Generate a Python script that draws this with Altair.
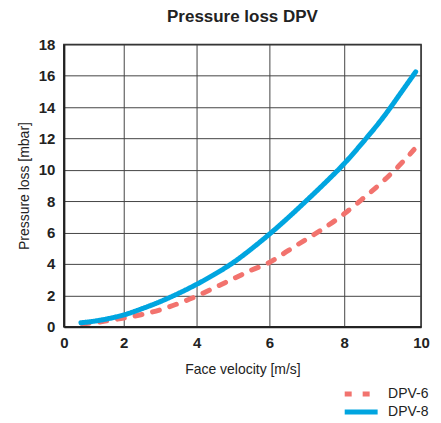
import altair as alt
import pandas as pd

# Data
x6 = [0.6, 1.0, 1.5, 2.0, 2.5, 3.0, 3.5, 4.0, 4.5, 5.0, 5.5, 6.0, 6.5, 7.0, 7.5, 8.0, 8.5, 9.0, 9.5, 9.82]
y6 = [0.2, 0.25, 0.4, 0.55, 0.78, 1.08, 1.48, 1.95, 2.5, 3.05, 3.6, 4.1, 4.85, 5.6, 6.35, 7.2, 8.2, 9.25, 10.45, 11.3]
x8 = [0.57, 1.0, 1.5, 2.0, 2.5, 3.0, 3.5, 4.0, 4.5, 5.0, 5.5, 6.0, 6.5, 7.0, 7.5, 8.0, 8.5, 9.0, 9.5, 9.86]
y8 = [0.25, 0.35, 0.52, 0.75, 1.15, 1.6, 2.12, 2.7, 3.35, 4.08, 4.95, 5.9, 6.95, 8.06, 9.2, 10.4, 11.8, 13.3, 15.0, 16.25]
series = ["DPV-6", "DPV-8"]
x_ticks = [0, 2, 4, 6, 8, 10]
y_ticks = [0, 2, 4, 6, 8, 10, 12, 14, 16, 18]

df = pd.concat([
    pd.DataFrame({"v": x6, "p": y6, "s": series[0], "o": range(len(x6))}),
    pd.DataFrame({"v": x8, "p": y8, "s": series[1], "o": range(len(x8))}),
])

FONT = "Liberation Sans, Arial, sans-serif"

chart = alt.Chart(df).mark_line(strokeWidth=5, strokeCap="round", interpolate="monotone").encode(
    x=alt.X("v:Q", title="Face velocity [m/s]",
            scale=alt.Scale(domain=x_ticks, range=[0, 60, 133, 206, 281, 358], nice=False, zero=False),
            axis=alt.Axis(values=x_ticks, format="d")),
    y=alt.Y("p:Q", title="Pressure loss [mbar]",
            scale=alt.Scale(domain=[0, 18], nice=False),
            axis=alt.Axis(values=y_ticks, format="d")),
    color=alt.Color("s:N", scale=alt.Scale(domain=series, range=["#F2736E", "#00A5E0"]),
                    legend=alt.Legend(title=None)),
    strokeDash=alt.StrokeDash("s:N", scale=alt.Scale(domain=series, range=[[7, 11], [1, 0]]),
                              legend=alt.Legend(title=None)),
    order="o:Q",
).properties(
    width=358,
    height=283,
    title=alt.TitleParams("Pressure loss DPV", fontSize=17, fontWeight="bold", font=FONT,
                          color="#222222", anchor="middle", offset=11),
    autosize=alt.AutoSizeParams(type="none"),
    padding={"left": 56, "top": 36, "right": 12, "bottom": 96},
).configure_view(
    stroke="#222222", strokeWidth=1.5
).configure_axis(
    grid=True, gridColor="#444444", gridWidth=1, gridOpacity=1,
    domainColor="#222222", domainWidth=2, labelFlush=False,
    ticks=False, labelFont=FONT, labelFontSize=15, labelFontWeight="bold", labelColor="#222222",
    titleFont=FONT, titleFontSize=14, titleFontWeight="normal", titleColor="#222222",
    labelPadding=9,
).configure_axisX(
    titlePadding=12,
).configure_axisY(
    titlePadding=7,
).configure_legend(
    orient="none", legendX=279, legendY=343,
    symbolType="stroke", symbolStrokeWidth=5, symbolSize=1089,
    labelFont=FONT, labelFontSize=14, labelColor="#222222", labelOffset=8,
    clipHeight=15, rowPadding=3,
)

chart.save("out.html", embed_options={"renderer": "svg", "actions": False})
